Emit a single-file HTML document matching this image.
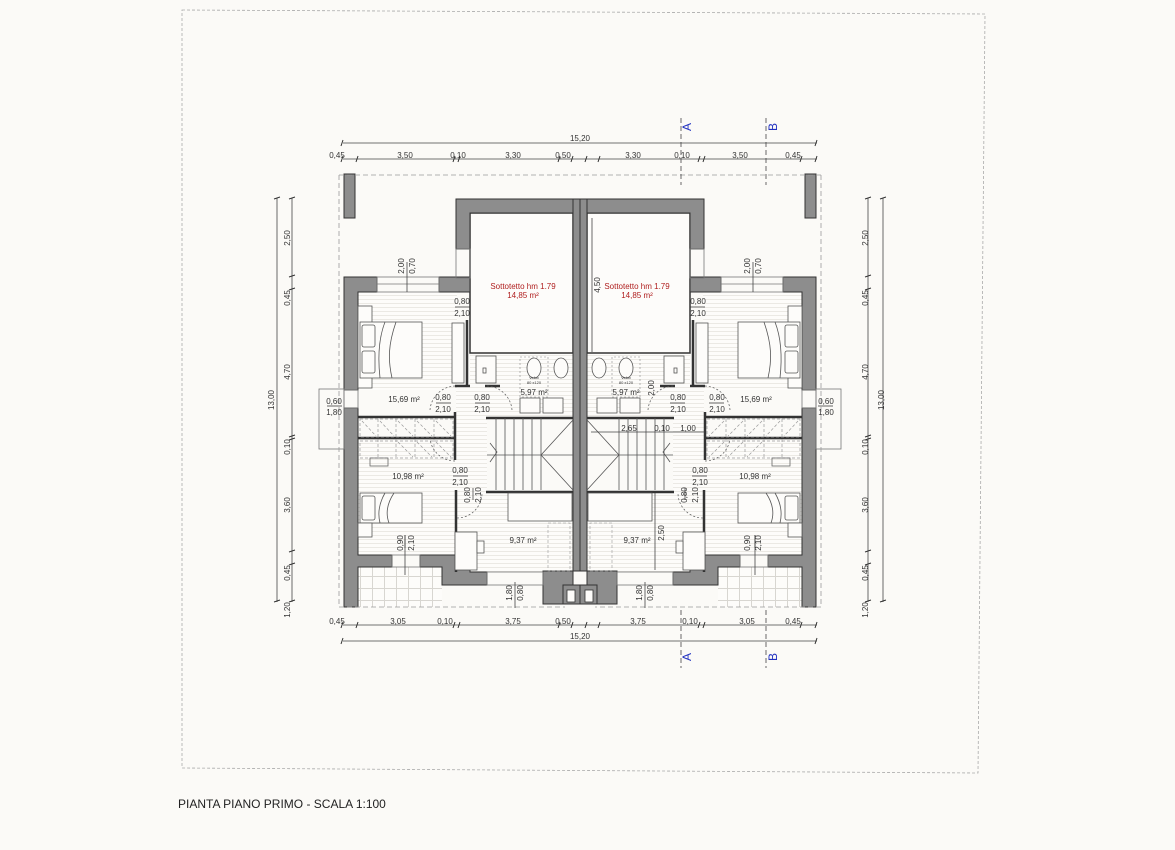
<!DOCTYPE html>
<html><head><meta charset="utf-8"><style>
html,body{margin:0;padding:0;background:#fbfaf7;}
svg{display:block;font-family:"Liberation Sans",sans-serif;}
</style></head><body>
<svg width="1175" height="850" viewBox="0 0 1175 850" xmlns="http://www.w3.org/2000/svg">
<defs>
<pattern id="fl" width="6" height="4" patternUnits="userSpaceOnUse"><rect width="6" height="4" fill="#fdfcfa"/><line x1="0" y1="3.5" x2="6" y2="3.5" stroke="#ebe9e4" stroke-width="1"/></pattern>
<pattern id="tl" width="12" height="12" patternUnits="userSpaceOnUse"><rect width="12" height="12" fill="#fdfcfa"/><path d="M0 0.5H12M0.5 0V12" stroke="#d8d6d1" stroke-width="1"/></pattern>
<g id="L">
 <!-- floors -->
 <rect x="358" y="292" width="99" height="98" fill="url(#fl)"/>
 <rect x="358" y="437" width="98" height="118" fill="url(#fl)"/>
 <rect x="456" y="390" width="31" height="182" fill="url(#fl)"/>
 <rect x="457" y="493" width="116" height="79" fill="url(#fl)"/>
 <rect x="470" y="353" width="103" height="65" fill="url(#fl)"/>
 <rect x="358" y="567" width="84" height="40" fill="url(#tl)"/>
 <!-- attic -->
 <rect x="470" y="213" width="103" height="140" fill="#fdfcfa" stroke="#333" stroke-width="1.5"/>
 <!-- walls -->
 <g fill="#8d8d8d" stroke="#333" stroke-width="1">
  <rect x="344" y="174" width="11" height="44"/>
  <path d="M456 199H580V213H470V249H456Z"/>
  <rect x="573" y="199" width="7" height="372"/>
  <path d="M344 277H377V292H358V390H344Z"/>
  <path d="M439 277H470V292H439Z"/>
  <path d="M344 408H358V555H392V567H358V607H344Z"/>
  <path d="M420 555H470V572H487V585H442V567H420Z"/>
  <path d="M543 571H573V585H563V604H543Z" />
  <rect x="563" y="585" width="17" height="19"/>
 </g>
 <rect x="567" y="590" width="8" height="12" fill="#fdfcfa" stroke="#333" stroke-width="0.8"/>
 <!-- windows -->
 <g fill="none" stroke="#777" stroke-width="0.8">
  <rect x="377" y="277" width="62" height="15"/><line x1="377" y1="284" x2="439" y2="284"/>
  <rect x="456" y="249" width="14" height="29"/>
  <rect x="392" y="555" width="28" height="12"/>
  <rect x="487" y="572" width="56" height="13"/>
  <rect x="319" y="389" width="25" height="60"/><rect x="344" y="390" width="14" height="18"/>
 </g>
 <!-- thin walls -->
 <g stroke="#333" stroke-width="2.5" fill="none">
  <line x1="467" y1="320" x2="467" y2="385"/>
  <line x1="455" y1="386" x2="470" y2="386"/>
  <line x1="485" y1="386" x2="500" y2="386"/>
  <line x1="358" y1="417" x2="455" y2="417"/>
  <line x1="358" y1="438" x2="455" y2="438"/>
  <line x1="455" y1="412" x2="455" y2="460"/>
  <line x1="456" y1="490" x2="456" y2="572"/>
  <line x1="486" y1="418" x2="573" y2="418"/>
  <line x1="486" y1="492" x2="573" y2="492"/>
 </g>
 <!-- wardrobes -->
 <g stroke="#999" stroke-width="0.7" fill="none" stroke-dasharray="3,2">
  <rect x="360" y="419" width="93" height="18"/><rect x="360" y="441" width="93" height="17"/>
  <path d="M378 419V458M396 419V458M415 419V458M434 419V458"/>
  <path d="M362 421L376 436M380 421L394 436M398 421L413 436M417 421L432 436M436 421L451 436M398 442L413 457M417 442L432 457M436 442L451 457"/>
  <rect x="591" y="525" width="-0" height="0"/>
 </g>
 <rect x="370" y="458" width="18" height="8" fill="none" stroke="#666" stroke-width="0.8"/>
 <!-- stair -->
 <g stroke="#555" stroke-width="0.8" fill="none">
  <line x1="487" y1="455" x2="573" y2="455"/>
  <path d="M496 418V490M505 418V490M514 418V490M523 418V490M532 418V490M541 418V490"/>
  <path d="M541 455L573 420M541 455L573 490M490 443L497 452L490 462"/>
 </g>
 <!-- beds -->
 <g fill="#fdfcfa" stroke="#555" stroke-width="0.8">
  <rect x="358" y="306" width="14" height="82"/>
  <rect x="360" y="322" width="62" height="56"/>
  <rect x="362" y="325" width="13" height="22" rx="2"/><rect x="362" y="351" width="13" height="22" rx="2"/>
  <path d="M385 322C378 340 378 360 380 378M396 322C388 345 388 360 392 378" fill="none"/>
  <rect x="452" y="323" width="12" height="60"/>
  <rect x="360" y="493" width="62" height="30"/>
  <rect x="362" y="496" width="13" height="24" rx="2"/>
  <path d="M385 493C378 505 378 515 380 523M394 493C386 505 386 515 389 523" fill="none"/>
  <rect x="358" y="523" width="14" height="14"/>
  <rect x="508" y="493" width="64" height="28"/>
  <rect x="455" y="532" width="22" height="38"/><rect x="477" y="541" width="7" height="12"/>
  <rect x="476" y="356" width="20" height="27"/><rect x="483" y="368" width="3" height="5"/>
  <rect x="520" y="398" width="20" height="15"/><rect x="543" y="398" width="20" height="15"/>
  <ellipse cx="534" cy="368" rx="7" ry="10"/><ellipse cx="561" cy="368" rx="7" ry="10"/>
 </g>
 <rect x="520" y="357" width="28" height="40" fill="none" stroke="#888" stroke-width="0.6" stroke-dasharray="2,2"/>
 <rect x="548" y="523" width="22" height="48" fill="none" stroke="#999" stroke-width="0.6" stroke-dasharray="3,2"/>
 <!-- door swings -->
 <g stroke="#555" stroke-width="0.7" fill="none" stroke-dasharray="2,2">
  <path d="M430 410A26 26 0 0 1 456 386"/><path d="M512 410A26 26 0 0 0 486 386"/>
  <path d="M455 461A25 25 0 0 1 430 438"/><path d="M457 518A25 25 0 0 0 482 493"/>
 </g>
 <!-- outline -->
 <path d="M339 175H580M339 175V607H565" fill="none" stroke="#999" stroke-width="0.8" stroke-dasharray="5,3"/>
</g>
</defs>
<!-- sheet frame -->
<path d="M182 10L985 14L978 773L182 768Z" fill="none" stroke="#aaa" stroke-width="0.8" stroke-dasharray="3,2"/>
<use href="#L"/>
<use href="#L" transform="matrix(-1,0,0,1,1160,0)"/>
<!-- dimension lines -->
<g stroke="#444" stroke-width="0.8" fill="none">
 <line x1="343" y1="143" x2="817" y2="143"/><line x1="343" y1="159" x2="817" y2="159"/>
 <line x1="343" y1="625" x2="817" y2="625"/><line x1="343" y1="641" x2="817" y2="641"/>
 <line x1="277" y1="198" x2="277" y2="602"/><line x1="292" y1="198" x2="292" y2="602"/>
 <line x1="883" y1="198" x2="883" y2="602"/><line x1="868" y1="198" x2="868" y2="602"/>
 <line x1="681" y1="118" x2="681" y2="185" stroke-dasharray="5,3"/><line x1="766" y1="118" x2="766" y2="185" stroke-dasharray="5,3"/>
 <line x1="681" y1="610" x2="681" y2="668" stroke-dasharray="5,3"/><line x1="766" y1="610" x2="766" y2="668" stroke-dasharray="5,3"/>
 <line x1="407" y1="262" x2="407" y2="292"/><line x1="753" y1="262" x2="753" y2="292"/>
 <line x1="515" y1="582" x2="515" y2="608"/><line x1="645" y1="582" x2="645" y2="608"/>
 <line x1="405" y1="535" x2="405" y2="575"/><line x1="755" y1="535" x2="755" y2="575"/>
 <line x1="592" y1="218" x2="592" y2="352"/>
 <line x1="591" y1="432" x2="705" y2="432"/>
 <line x1="655" y1="493" x2="655" y2="570"/>
</g>
<g stroke="#333" stroke-width="1">
 <path d="M343 156l-2 6M358 156l-2 6M455 156l-2 6M460 156l-2 6M560 156l-2 6M573 156l-2 6M587 156l-2 6M600 156l-2 6M700 156l-2 6M705 156l-2 6M802 156l-2 6M817 156l-2 6M343 140l-2 6M817 140l-2 6"/>
 <path d="M343 622l-2 6M358 622l-2 6M455 622l-2 6M460 622l-2 6M560 622l-2 6M573 622l-2 6M587 622l-2 6M600 622l-2 6M700 622l-2 6M705 622l-2 6M802 622l-2 6M817 622l-2 6M343 638l-2 6M817 638l-2 6"/>
 <path d="M274 199l6-2M289 199l6-2M289 277l6-2M289 290l6-2M289 437l6-2M289 440l6-2M289 552l6-2M289 565l6-2M274 602l6-2M289 602l6-2"/>
 <path d="M865 199l6-2M880 199l6-2M865 277l6-2M865 290l6-2M865 437l6-2M865 440l6-2M865 552l6-2M865 565l6-2M880 602l6-2M865 602l6-2"/>
</g>
<g stroke="#333" stroke-width="0.7">
 <path d="M455 307H470M436 403H451M475 403H490M453 476H468M327 406H342"/>
 <path d="M705 307H690M724 403H709M685 403H670M707 476H692M833 406H818"/>
 <path d="M473 488V500M685 488V500M405 535V548M755 535V548"/>
</g>
<g font-size="8" fill="#333" text-anchor="middle">
 <text x="580" y="141">15,20</text><text x="580" y="639">15,20</text>
 <text x="337" y="158">0,45</text><text x="405" y="158">3,50</text><text x="458" y="158">0,10</text><text x="513" y="158">3,30</text><text x="563" y="158">0,50</text><text x="633" y="158">3,30</text><text x="682" y="158">0,10</text><text x="740" y="158">3,50</text><text x="793" y="158">0,45</text>
 <text x="337" y="624">0,45</text><text x="398" y="624">3,05</text><text x="445" y="624">0,10</text><text x="513" y="624">3,75</text><text x="563" y="624">0,50</text><text x="638" y="624">3,75</text><text x="690" y="624">0,10</text><text x="747" y="624">3,05</text><text x="793" y="624">0,45</text>
 <g transform="rotate(-90)">
  <text x="-400" y="274">13,00</text><text x="-400" y="884">13,00</text>
  <text x="-238" y="290">2,50</text><text x="-298" y="290">0,45</text><text x="-372" y="290">4,70</text><text x="-447" y="290">0,10</text><text x="-505" y="290">3,60</text><text x="-573" y="290">0,45</text><text x="-610" y="290">1,20</text>
  <text x="-238" y="868">2,50</text><text x="-298" y="868">0,45</text><text x="-372" y="868">4,70</text><text x="-447" y="868">0,10</text><text x="-505" y="868">3,60</text><text x="-573" y="868">0,45</text><text x="-610" y="868">1,20</text>
  <text x="-266" y="404">2,00</text><text x="-266" y="415">0,70</text><text x="-266" y="750">2,00</text><text x="-266" y="761">0,70</text>
  <text x="-543" y="403">0,90</text><text x="-543" y="414">2,10</text><text x="-543" y="750">0,90</text><text x="-543" y="761">2,10</text>
  <text x="-495" y="470">0,80</text><text x="-495" y="481">2,10</text><text x="-495" y="687">0,80</text><text x="-495" y="698">2,10</text>
  <text x="-593" y="512">1,80</text><text x="-593" y="523">0,80</text><text x="-593" y="642">1,80</text><text x="-593" y="653">0,80</text>
  <text x="-285" y="600">4,50</text><text x="-388" y="654">2,00</text><text x="-533" y="664">2,50</text>
 </g>
 <text x="462" y="304">0,80</text><text x="462" y="316">2,10</text><text x="698" y="304">0,80</text><text x="698" y="316">2,10</text>
 <text x="443" y="400">0,80</text><text x="443" y="412">2,10</text><text x="482" y="400">0,80</text><text x="482" y="412">2,10</text>
 <text x="678" y="400">0,80</text><text x="678" y="412">2,10</text><text x="717" y="400">0,80</text><text x="717" y="412">2,10</text>
 <text x="460" y="473">0,80</text><text x="460" y="485">2,10</text><text x="700" y="473">0,80</text><text x="700" y="485">2,10</text>
 <text x="334" y="404">0,60</text><text x="334" y="415">1,80</text><text x="826" y="404">0,60</text><text x="826" y="415">1,80</text>
 <text x="629" y="431">2,65</text><text x="662" y="431">0,10</text><text x="688" y="431">1,00</text>
 <text x="404" y="402">15,69 m²</text><text x="756" y="402">15,69 m²</text>
 <text x="408" y="479">10,98 m²</text><text x="755" y="479">10,98 m²</text>
 <text x="523" y="543">9,37 m²</text><text x="637" y="543">9,37 m²</text>
 <text x="534" y="395">5,97 m²</text><text x="626" y="395">5,97 m²</text>
 <text x="534" y="379" font-size="4">Velux</text><text x="534" y="384" font-size="4">80 x120</text>
 <text x="626" y="379" font-size="4">Velux</text><text x="626" y="384" font-size="4">80 x120</text>
</g>
<g font-size="8" fill="#b02020" text-anchor="middle">
 <text x="523" y="289">Sottotetto hm 1.79</text><text x="523" y="298">14,85 m²</text>
 <text x="637" y="289">Sottotetto hm 1.79</text><text x="637" y="298">14,85 m²</text>
</g>
<g font-size="12" fill="#2030c0" text-anchor="middle">
 <text transform="translate(691,127) rotate(-90)">A</text><text transform="translate(777,127) rotate(-90)">B</text>
 <text transform="translate(691,657) rotate(-90)">A</text><text transform="translate(777,657) rotate(-90)">B</text>
</g>
<text x="178" y="808" font-size="12" fill="#222">PIANTA PIANO PRIMO - SCALA 1:100</text>
</svg>
</body></html>
